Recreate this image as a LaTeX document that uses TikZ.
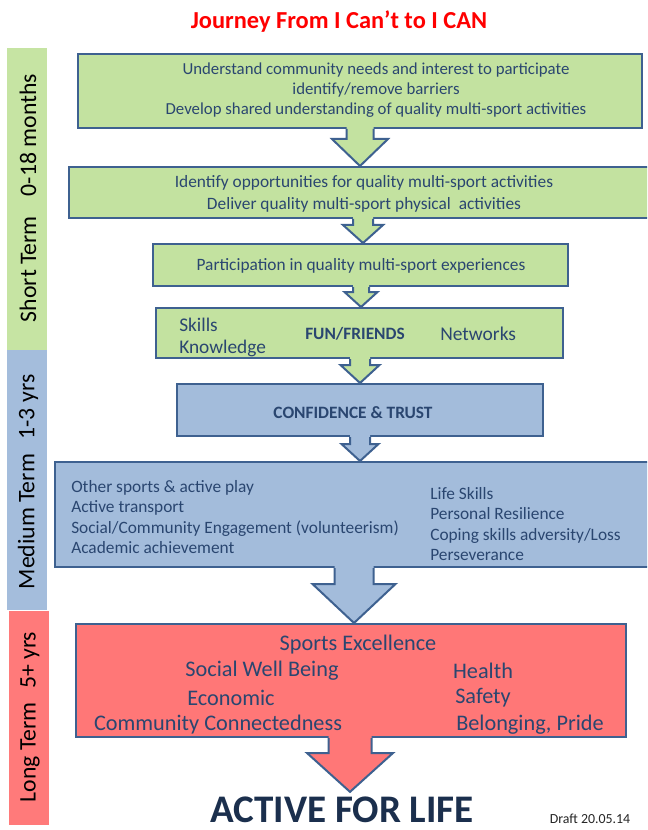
\documentclass[tikz,border=0pt]{standalone}
\usepackage{fontspec}
\setmainfont{Carlito}
\usetikzlibrary{calc}
\definecolor{gfill}{HTML}{C3E2A0}
\definecolor{bfill}{HTML}{A3BCDB}
\definecolor{rfill}{HTML}{FF7777}
\definecolor{gbar}{HTML}{C6E4A3}
\definecolor{bbar}{HTML}{A4BDDC}
\definecolor{rbar}{HTML}{FF7A7A}
\definecolor{edgec}{HTML}{3E6190}
\definecolor{txt}{HTML}{2A4670}
\definecolor{navy}{HTML}{1B2F4D}
\newdimen\pxu \pxu=0.75pt
\tikzset{
  boxshape/.style={draw=edgec, line width=1.5pt, inner sep=0pt, rectangle},
  gbox/.style={boxshape, fill=gfill},
  bbox/.style={boxshape, fill=bfill},
  rbox/.style={boxshape, fill=rfill},
  sidebar/.style={inner sep=0pt, rectangle, minimum width=40*\pxu},
  sidelabel/.style={rotate=90, font=\fontsize{17.8}{20}\selectfont, text=black},
  boxtext/.style={text=txt, inner sep=0pt},
  arrowline/.style={draw=edgec, line width=1.5pt, line join=miter},
  pointnode/.style={inner sep=0pt, minimum size=0pt},
}
% #1 from node, #2 to node, #3 centre x, #4 shaft half width, #5 head half width, #6 head base y, #7 fill
\newcommand\blockarr[7]{%
  \coordinate (ax) at (#3,#6);
  \fill[#7] ($(#1.south -| ax)+(-#4,-3)$) -- ($(ax)+(-#4,0)$) -- ($(ax)+(-#5,0)$) -- (#2.north -| ax)
     -- ($(ax)+(#5,0)$) -- ($(ax)+(#4,0)$) -- ($(#1.south -| ax)+(#4,-3)$) -- cycle;
  \draw[arrowline] ($(#1.south -| ax)+(-#4,0)$) -- ($(ax)+(-#4,0)$) -- ($(ax)+(-#5,0)$) -- (#2.north -| ax)
     -- ($(ax)+(#5,0)$) -- ($(ax)+(#4,0)$) -- ($(#1.south -| ax)+(#4,0)$);
}
\begin{document}
\begin{tikzpicture}[x=0.75pt, y=-0.75pt]
\path[use as bounding box] (0,0) rectangle (647,830);
\clip (0,0) rectangle (647,830);
\fill[white] (0,0) rectangle (647,830);

% title
\node[font=\bfseries\fontsize{18.3}{21}\selectfont, text=red, inner sep=0pt] (title) at (339,22) {Journey From I Can’t to I CAN};

% side bars
\node[sidebar, fill=gbar, minimum height=302*\pxu] (sbar) at (27,199) {};
\node[sidebar, fill=bbar, minimum height=260*\pxu] (mbar) at (27,480) {};
\node[sidebar, fill=rbar, minimum height=214*\pxu] (lbar) at (29,718) {};
\node[sidelabel] (slab) at (28,198) {Short Term\hspace{15pt}0-18 months};
\node[sidelabel] (mlab) at (28,482) {Medium Term\hspace{11pt}1-3 yrs};
\node[sidelabel] (llab) at (30,717) {Long Term\hspace{10pt}5+ yrs};

% boxes
\node[gbox, minimum width=564*\pxu, minimum height=74*\pxu] (b1) at (360,91) {};
\node[gbox, minimum width=592*\pxu, minimum height=51*\pxu] (b2) at (365,192.5) {};
\node[gbox, minimum width=415*\pxu, minimum height=42*\pxu] (b3) at (360.5,265) {};
\node[gbox, minimum width=407*\pxu, minimum height=50*\pxu] (b4) at (359.5,333) {};
\node[bbox, minimum width=366*\pxu, minimum height=52*\pxu] (b5) at (360,410) {};
\node[bbox, minimum width=605*\pxu, minimum height=105*\pxu] (b6) at (357.5,514.5) {};
\node[rbox, minimum width=550*\pxu, minimum height=113*\pxu] (b7) at (351,680.5) {};

% final text
\node[font=\bfseries\fontsize{29.3}{33}\selectfont, text=navy, anchor=base, inner sep=0pt] (afl) at (342,822) {ACTIVE FOR LIFE};
\node[pointnode] (afltop) at ($(afl.north)+(0,-4)$) {};
\node[font=\fontsize{10.4}{12}\selectfont, text=black!85, inner sep=0pt] (draft) at (590,819) {Draft 20.05.14};

% arrows
\blockarr{b1}{b2}{360}{13.5}{28}{139}{gfill}
\blockarr{b2}{b3}{363}{10}{20}{225}{gfill}
\blockarr{b3}{b4}{361}{8}{16.5}{292}{gfill}
\blockarr{b4}{b5}{360}{10}{19.5}{365}{gfill}
\blockarr{b5}{b6}{360}{10}{18.5}{444}{bfill}
\blockarr{b6}{b7}{354}{19.5}{41.5}{584}{bfill}
\blockarr{b7}{afltop}{350}{21.5}{43}{753}{rfill}

% box texts
\node[boxtext, align=center, font=\fontsize{12.6}{15}\selectfont] (t1) at (376,90)
  {Understand community needs and interest to participate\\identify/remove barriers\\Develop shared understanding of quality multi-sport activities};
\node[boxtext, align=center, font=\fontsize{13}{16.5}\selectfont] (t2) at (364,194)
  {Identify opportunities for quality multi-sport activities\\Deliver quality multi-sport physical\ \ activities};
\node[boxtext, font=\fontsize{13}{15}\selectfont] (t3) at (361,266) {Participation in quality multi-sport experiences};
\node[boxtext, align=left, anchor=west, font=\fontsize{14.5}{16.5}\selectfont] (t4a) at (179,337) {Skills\\Knowledge};
\node[boxtext, font=\bfseries\fontsize{13}{15}\selectfont] (t4b) at (355,334) {FUN/FRIENDS};
\node[boxtext, anchor=west, font=\fontsize{14.6}{16}\selectfont] (t4c) at (440,334) {Networks};
\node[boxtext, font=\bfseries\fontsize{13}{15}\selectfont] (t5) at (353,413) {CONFIDENCE \& TRUST};
\node[boxtext, align=left, anchor=west, font=\fontsize{13}{15.25}\selectfont] (t6a) at (71,517)
  {Other sports \& active play\\Active transport\\Social/Community Engagement (volunteerism)\\Academic achievement};
\node[boxtext, align=left, anchor=west, font=\fontsize{13}{15.25}\selectfont] (t6b) at (430,524)
  {Life Skills\\Personal Resilience\\Coping skills adversity/Loss\\Perseverance};
\tikzset{redtext/.style={boxtext, font=\fontsize{16.7}{19}\selectfont}}
\node[redtext] (t7a) at (358,645) {Sports Excellence};
\node[redtext] (t7b) at (262,671) {Social Well Being};
\node[redtext] (t7c) at (483,671) {Health};
\node[redtext] (t7d) at (231,698) {Economic};
\node[redtext] (t7e) at (483,698) {Safety};
\node[redtext] (t7f) at (218,725) {Community Connectedness};
\node[redtext] (t7g) at (530,725) {Belonging, Pride};
\end{tikzpicture}
\end{document}
